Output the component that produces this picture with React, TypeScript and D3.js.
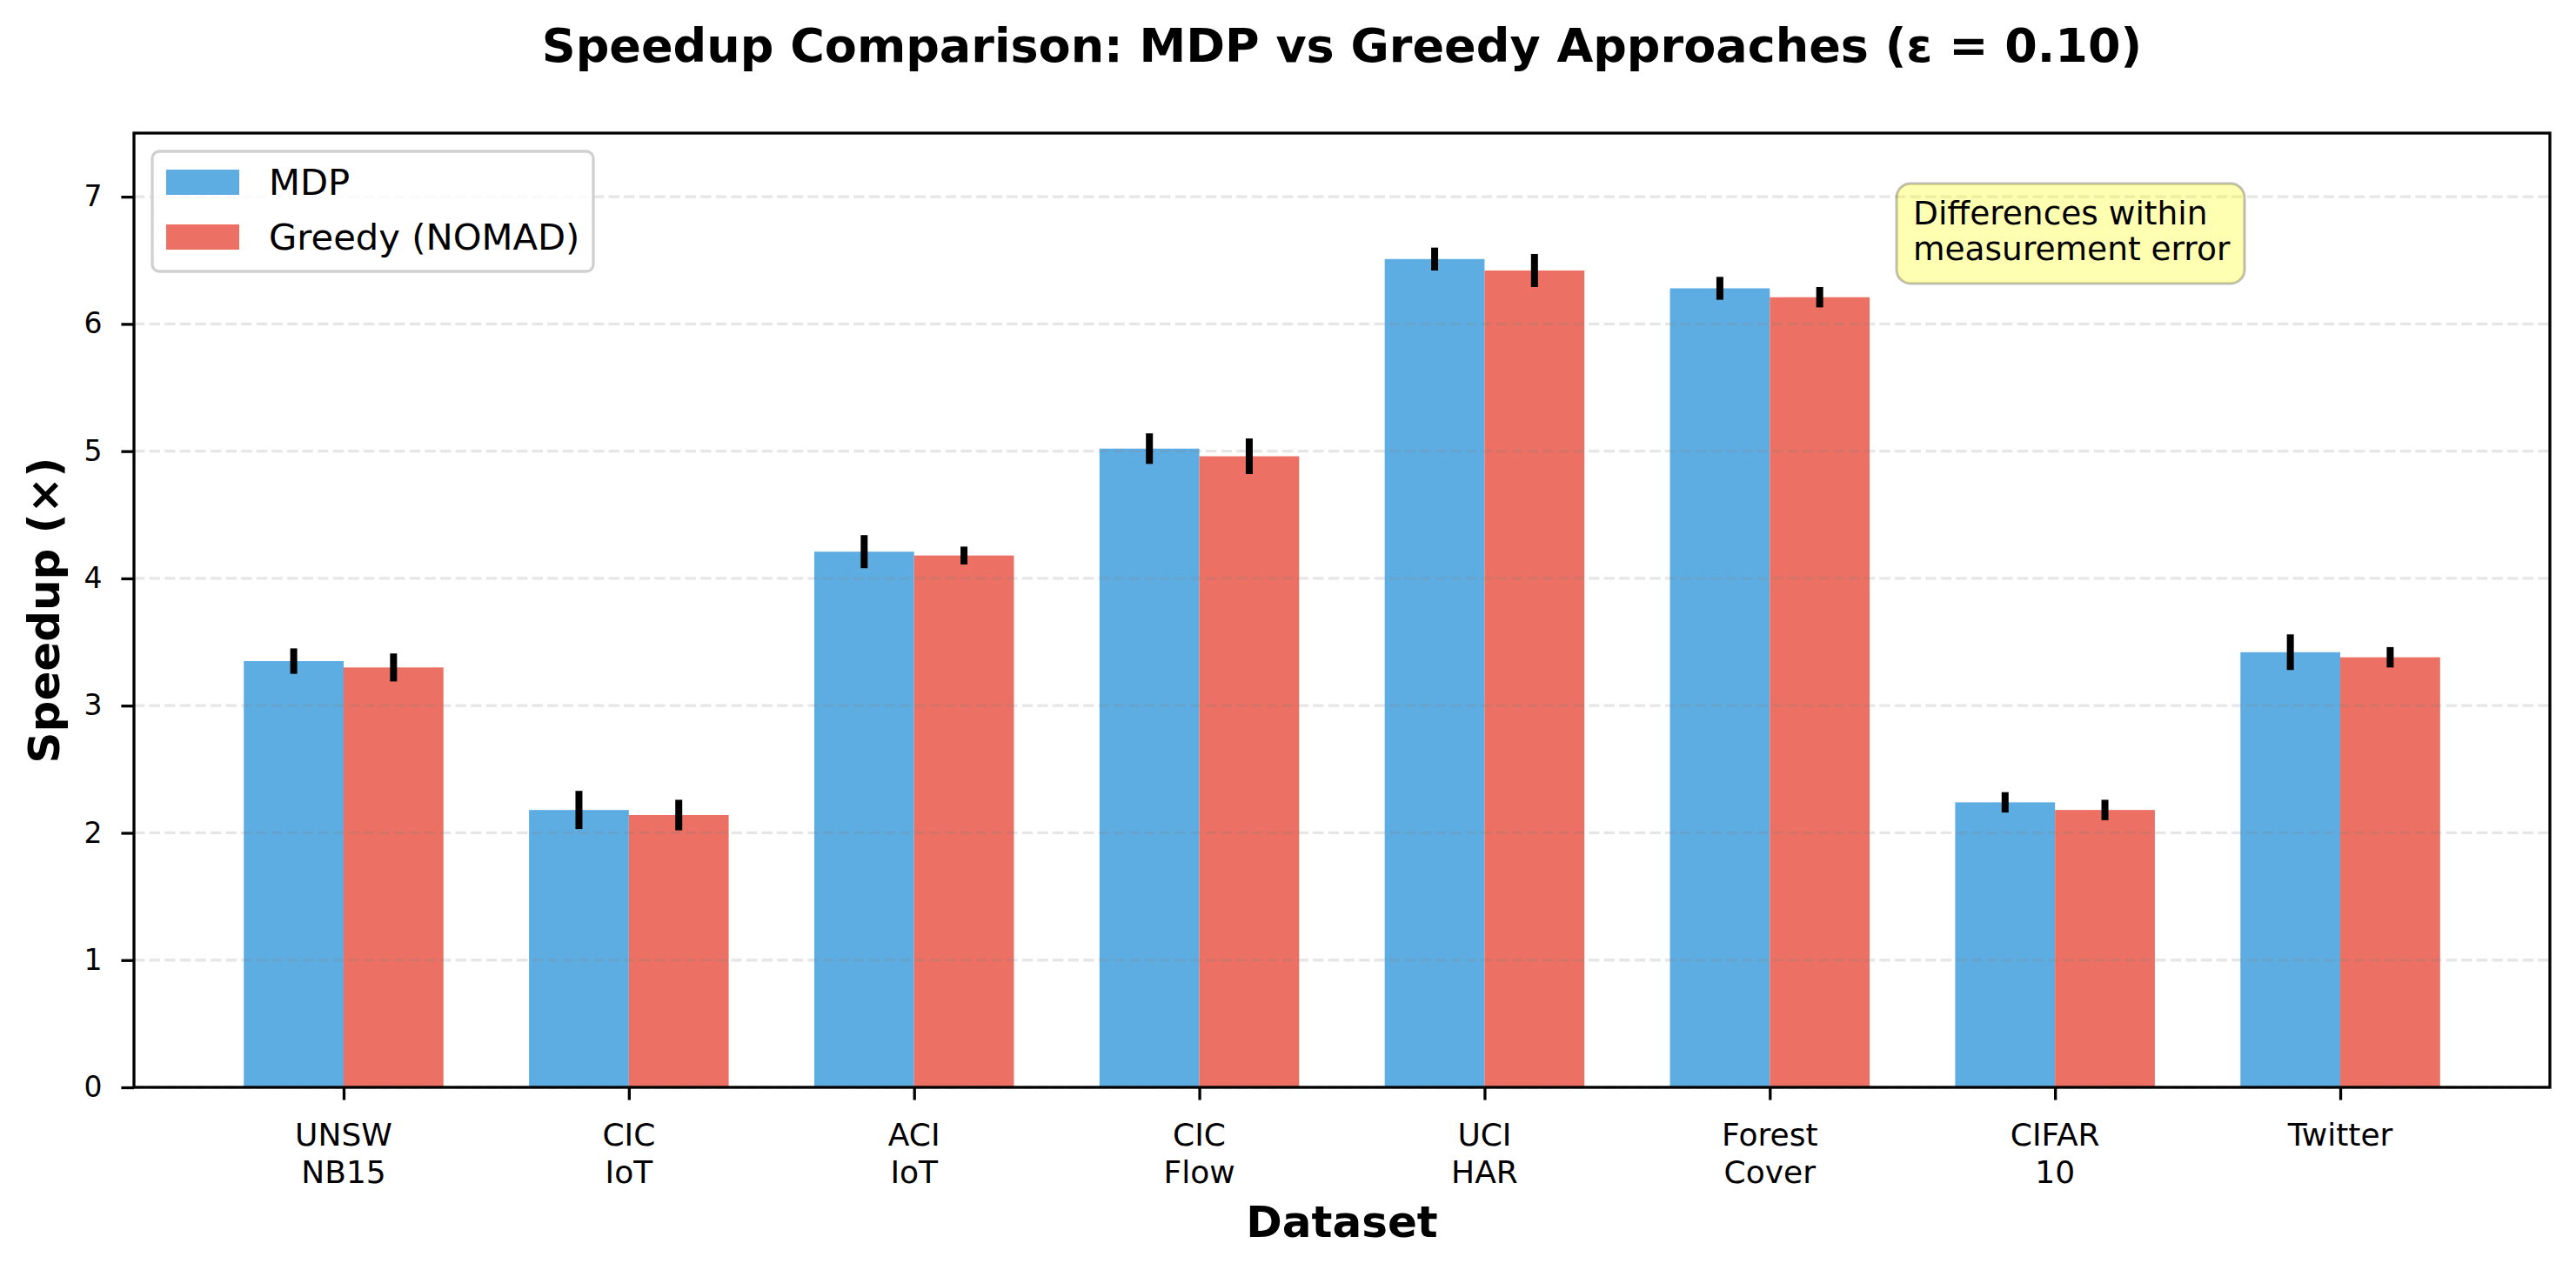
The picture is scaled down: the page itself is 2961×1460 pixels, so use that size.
import React, { useEffect, useRef } from 'react';
import * as d3 from 'd3';

const datasets = ['UNSW\nNB15', 'CIC\nIoT', 'ACI\nIoT', 'CIC\nFlow', 'UCI\nHAR', 'Forest\nCover', 'CIFAR\n10', 'Twitter'];
const mdpSpeedup = [3.35, 2.18, 4.21, 5.02, 6.51, 6.28, 2.24, 3.42];
const mdpErr = [0.1, 0.15, 0.13, 0.12, 0.09, 0.09, 0.08, 0.14];
const greedySpeedup = [3.3, 2.14, 4.18, 4.96, 6.42, 6.21, 2.18, 3.38];
const greedyErr = [0.11, 0.12, 0.07, 0.14, 0.13, 0.08, 0.08, 0.08];
const yTicks = [0, 1, 2, 3, 4, 5, 6, 7];
const seriesNames = ['MDP', 'Greedy (NOMAD)'];
const colors = ['#5DADE2', '#EC7063'];

const W = 2961;
const H = 1460;
const FONT = '"DejaVu Sans", sans-serif';

export default function SpeedupChart() {
  const svgRef = useRef<SVGSVGElement>(null);

  useEffect(() => {
    if (!svgRef.current) return;
    const svg = d3.select(svgRef.current);
    svg.selectAll('*').remove();

    const left = 154, right = 2931, top = 153, bottom = 1250;
    const barW = 0.35;
    const n = datasets.length;
    // matplotlib-style 5% margins around the bars
    const lo = -barW, hi = n - 1 + barW;
    const pad = (hi - lo) * 0.05;

    const x = d3.scaleLinear().domain([lo - pad, hi + pad]).range([left, right]);
    const y = d3.scaleLinear().domain([0, 7.5]).range([bottom, top]);

    svg.append('rect').attr('width', W).attr('height', H).attr('fill', 'white');

    const series = [
      { vals: mdpSpeedup, err: mdpErr, off: -barW / 2 },
      { vals: greedySpeedup, err: greedyErr, off: barW / 2 },
    ];

    // bars
    series.forEach((s, si) => {
      svg.append('g')
        .selectAll('rect')
        .data(s.vals)
        .join('rect')
        .attr('x', (_, i) => x(i + s.off - barW / 2))
        .attr('width', x(barW) - x(0))
        .attr('y', d => y(d))
        .attr('height', d => y(0) - y(d))
        .attr('fill', colors[si]);
    });

    // grid (drawn over bars like matplotlib)
    svg.append('g')
      .selectAll('line')
      .data(yTicks)
      .join('line')
      .attr('x1', left).attr('x2', right)
      .attr('y1', d => y(d)).attr('y2', d => y(d))
      .attr('stroke', '#808080')
      .attr('stroke-opacity', 0.2)
      .attr('stroke-width', 3.3)
      .attr('stroke-dasharray', '12.3 5.3');

    // error bars
    series.forEach(s => {
      svg.append('g')
        .selectAll('line')
        .data(s.vals)
        .join('line')
        .attr('x1', (_, i) => x(i + s.off))
        .attr('x2', (_, i) => x(i + s.off))
        .attr('y1', (d, i) => y(d - s.err[i]))
        .attr('y2', (d, i) => y(d + s.err[i]))
        .attr('stroke', 'black')
        .attr('stroke-width', 8);
    });

    // spines
    svg.append('rect')
      .attr('x', left).attr('y', top)
      .attr('width', right - left).attr('height', bottom - top)
      .attr('fill', 'none').attr('stroke', 'black').attr('stroke-width', 3.3);

    // y axis
    const yAxis = svg.append('g').attr('transform', `translate(${left},0)`)
      .call(d3.axisLeft(y).tickValues(yTicks).tickSize(14.6).tickPadding(22));
    yAxis.select('.domain').remove();
    yAxis.selectAll('.tick line').attr('stroke-width', 3.3);
    yAxis.selectAll('.tick text').attr('font-family', FONT).attr('font-size', 33).attr('fill', 'black');

    // x axis
    const xAxis = svg.append('g').attr('transform', `translate(0,${bottom})`)
      .call(d3.axisBottom(x).tickValues(d3.range(n)).tickSize(14.6).tickFormat(() => ''));
    xAxis.select('.domain').remove();
    xAxis.selectAll('.tick line').attr('stroke-width', 3.3);
    xAxis.selectAll('.tick text').remove();

    const xl = svg.append('g')
      .selectAll('text')
      .data(datasets)
      .join('text')
      .attr('x', (_, i) => x(i))
      .attr('y', 1317)
      .attr('text-anchor', 'middle')
      .attr('font-family', FONT)
      .attr('font-size', 36);
    xl.each(function (d) {
      d.split('\n').forEach((line, li) => {
        d3.select(this).append('tspan')
          .attr('x', d3.select(this).attr('x'))
          .attr('dy', li === 0 ? 0 : 42.5)
          .text(line);
      });
    });

    // labels
    svg.append('text')
      .attr('x', (left + right) / 2).attr('y', 71)
      .attr('text-anchor', 'middle')
      .attr('font-family', FONT).attr('font-weight', 'bold').attr('font-size', 54)
      .text('Speedup Comparison: MDP vs Greedy Approaches (ε = 0.10)');

    svg.append('text')
      .attr('x', (left + right) / 2).attr('y', 1422)
      .attr('text-anchor', 'middle')
      .attr('font-family', FONT).attr('font-weight', 'bold').attr('font-size', 50)
      .text('Dataset');

    svg.append('text')
      .attr('transform', `translate(68,${(top + bottom) / 2}) rotate(-90)`)
      .attr('text-anchor', 'middle')
      .attr('font-family', FONT).attr('font-weight', 'bold').attr('font-size', 50)
      .text('Speedup (×)');

    // legend
    const lg = svg.append('g');
    lg.append('rect')
      .attr('x', 175).attr('y', 174).attr('width', 507).attr('height', 138)
      .attr('rx', 8).attr('fill', 'white').attr('fill-opacity', 0.8)
      .attr('stroke', '#d0d0d0').attr('stroke-width', 3.3);
    seriesNames.forEach((name, i) => {
      const base = 224 + i * 63;
      lg.append('rect')
        .attr('x', 191).attr('y', base - 29).attr('width', 84).attr('height', 29)
        .attr('fill', colors[i]);
      lg.append('text')
        .attr('x', 309).attr('y', base)
        .attr('font-family', FONT).attr('font-size', 41.7)
        .text(name);
    });

    // annotation
    const an = svg.append('g');
    an.append('rect')
      .attr('x', 2180).attr('y', 211).attr('width', 400).attr('height', 115)
      .attr('rx', 16).attr('fill', '#ffff00').attr('fill-opacity', 0.3)
      .attr('stroke', 'black').attr('stroke-opacity', 0.25).attr('stroke-width', 3);
    ['Differences within', 'measurement error'].forEach((t, i) => {
      an.append('text')
        .attr('x', 2199).attr('y', 258 + i * 41)
        .attr('font-family', FONT).attr('font-size', 37.5)
        .text(t);
    });
  }, []);

  return (
    <svg
      ref={svgRef}
      width={W}
      height={H}
      style={{ position: 'absolute', left: 0, top: 0 }}
    />
  );
}
